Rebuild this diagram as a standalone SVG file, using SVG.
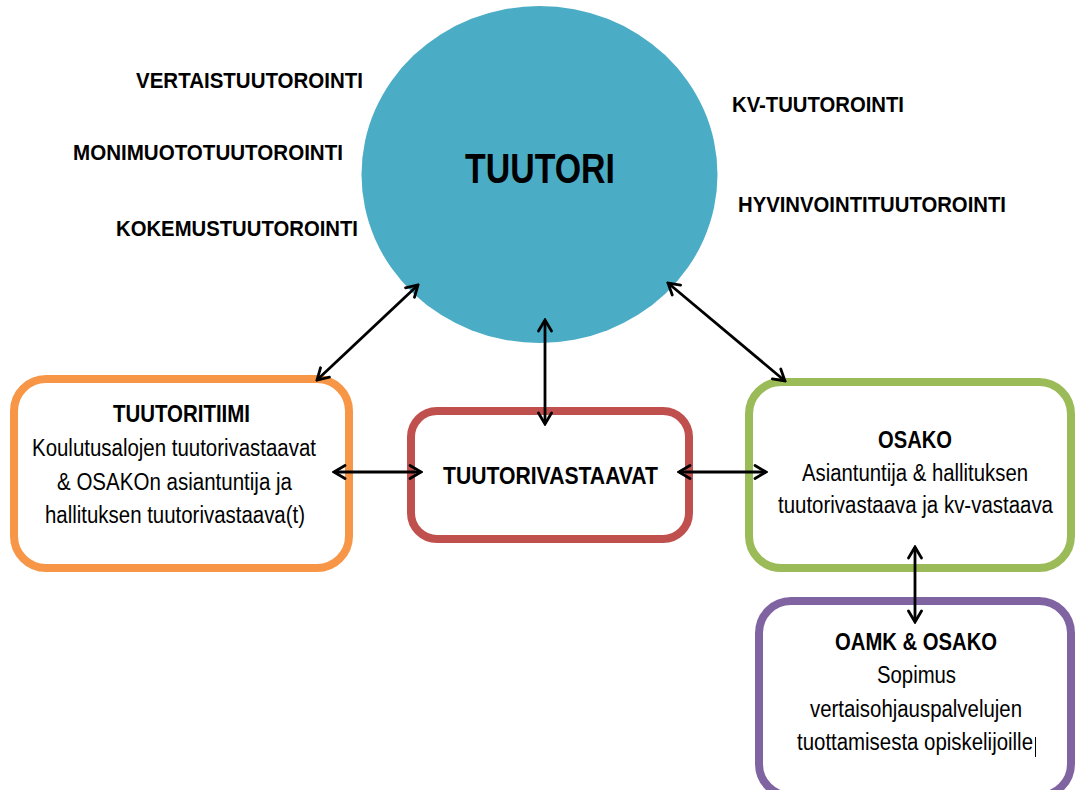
<svg xmlns="http://www.w3.org/2000/svg" width="1079" height="790" viewBox="0 0 1079 790">
<style>
.lbl{font-family:"Liberation Sans",Arial,sans-serif;font-weight:bold;font-size:22px;fill:#000}
.ttl{font-family:"Liberation Sans",Arial,sans-serif;font-weight:bold;font-size:23px;fill:#000;text-anchor:middle}
.txt{font-family:"Liberation Sans",Arial,sans-serif;font-size:23px;fill:#000;text-anchor:middle}
.box{fill:#fff;stroke-width:8}
.con{stroke:#000;stroke-width:2.8;fill:none;marker-start:url(#ah);marker-end:url(#ah)}
</style>
<defs>
<marker id="ah" viewBox="-14 -9 16 18" refX="0" refY="0" markerWidth="16" markerHeight="18" markerUnits="userSpaceOnUse" orient="auto-start-reverse">
<path d="M-11,-6.5 L0,0 L-11,6.5" fill="none" stroke="#000" stroke-width="2.8" stroke-linecap="round" stroke-linejoin="miter"/>
</marker>
</defs>
<rect width="1079" height="790" fill="#fff"/>
<g id="labels">
<text class="lbl" x="136" y="88" textLength="227" lengthAdjust="spacingAndGlyphs">VERTAISTUUTOROINTI</text>
<text class="lbl" x="73" y="160" textLength="270" lengthAdjust="spacingAndGlyphs">MONIMUOTOTUUTOROINTI</text>
<text class="lbl" x="116" y="236" textLength="242" lengthAdjust="spacingAndGlyphs">KOKEMUSTUUTOROINTI</text>
<text class="lbl" x="732" y="112" textLength="172" lengthAdjust="spacingAndGlyphs">KV-TUUTOROINTI</text>
<text class="lbl" x="738" y="212" textLength="268" lengthAdjust="spacingAndGlyphs">HYVINVOINTITUUTOROINTI</text>
</g>
<g id="tuutori">
<ellipse cx="539.5" cy="174.5" rx="178" ry="168.5" fill="#4BACC6"/>
<text x="540" y="183" text-anchor="middle" font-family="Liberation Sans, Arial, sans-serif" font-weight="bold" font-size="43" textLength="150" lengthAdjust="spacingAndGlyphs">TUUTORI</text>
</g>
<g id="tuutoritiimi">
<rect class="box" x="14" y="379" width="335" height="189" rx="32" stroke="#F79646"/>
<text class="ttl" x="181.5" y="422" textLength="137" lengthAdjust="spacingAndGlyphs">TUUTORITIIMI</text>
<text class="txt" x="174" y="456" textLength="284" lengthAdjust="spacingAndGlyphs">Koulutusalojen tuutorivastaavat</text>
<text class="txt" x="174.5" y="490" textLength="235" lengthAdjust="spacingAndGlyphs">&amp; OSAKOn asiantuntija ja</text>
<text class="txt" x="175" y="523" textLength="260" lengthAdjust="spacingAndGlyphs">hallituksen tuutorivastaava(t)</text>
</g>
<g id="tuutorivastaavat">
<rect class="box" x="411" y="411" width="278" height="128" rx="26" stroke="#C0504D"/>
<text class="ttl" x="550.5" y="484" textLength="215" lengthAdjust="spacingAndGlyphs">TUUTORIVASTAAVAT</text>
</g>
<g id="osako">
<rect class="box" x="749" y="382" width="322" height="186" rx="32" stroke="#9BBB59"/>
<text class="ttl" x="915" y="448" textLength="74" lengthAdjust="spacingAndGlyphs">OSAKO</text>
<text class="txt" x="915" y="481" textLength="226" lengthAdjust="spacingAndGlyphs">Asiantuntija &amp; hallituksen</text>
<text class="txt" x="915.5" y="513" font-size="20" textLength="275" lengthAdjust="spacingAndGlyphs">tuutorivastaava ja kv-vastaava</text>
</g>
<g id="oamk-osako">
<rect class="box" x="759" y="601" width="312" height="195" rx="32" stroke="#8064A2"/>
<text class="ttl" x="916" y="650" textLength="162" lengthAdjust="spacingAndGlyphs">OAMK &amp; OSAKO</text>
<text class="txt" x="916.5" y="683" textLength="79" lengthAdjust="spacingAndGlyphs">Sopimus</text>
<text class="txt" x="916" y="717" textLength="212" lengthAdjust="spacingAndGlyphs">vertaisohjauspalvelujen</text>
<text class="txt" x="915" y="750" textLength="236" lengthAdjust="spacingAndGlyphs">tuottamisesta opiskelijoille</text>
<line x1="1035.5" y1="737" x2="1035.5" y2="757" stroke="#000" stroke-width="1"/>
</g>
<g id="connectors">
<line class="con" x1="418" y1="285" x2="317" y2="380"/>
<line class="con" x1="545" y1="320" x2="545" y2="424"/>
<line class="con" x1="668" y1="283" x2="785" y2="381"/>
<line class="con" x1="334" y1="472" x2="421" y2="472"/>
<line class="con" x1="679" y1="472" x2="766" y2="472"/>
<line class="con" x1="915" y1="547" x2="915" y2="622"/>
</g>
</svg>
